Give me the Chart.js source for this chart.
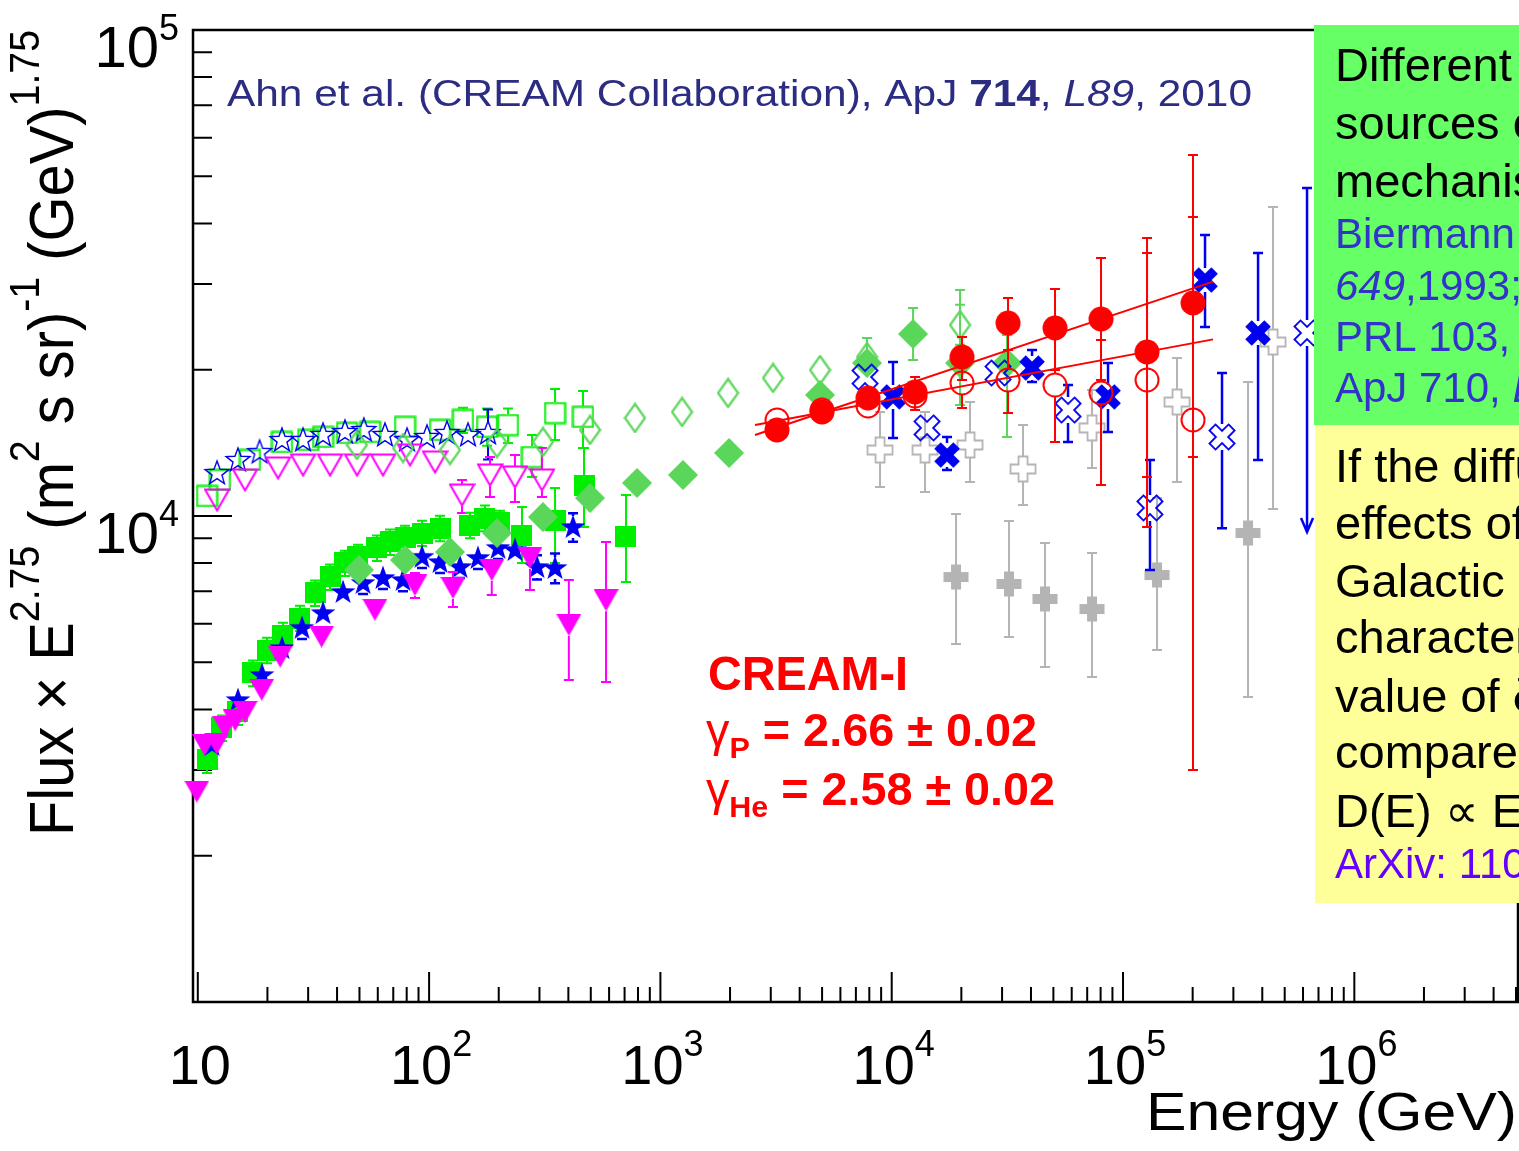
<!DOCTYPE html>
<html><head><meta charset="utf-8">
<script src="https://cdn.jsdelivr.net/npm/chart.js@4.4.1/dist/chart.umd.min.js"></script>
<style>html,body{margin:0;padding:0;background:#fff;overflow:hidden}</style>
</head><body><canvas id="c" width="1519" height="1151"></canvas>
<script>
// ---------- axis ranges & ticks ----------
const X_MIN = 9.534, X_MAX = 5.1e6, Y_MIN = 1000, Y_MAX = 100000;
const xMajorTicks = [10, 100, 1e3, 1e4, 1e5, 1e6];
const xMajorExp = ['', '2', '3', '4', '5', '6'];
const yMajorTicks = [1e4, 1e5];
const yMajorExp = ['4', '5'];
const minorMult = [2, 3, 4, 5, 6, 7, 8, 9];

// ---------- Helium (filled markers) ----------
const heGreenSqE = [10.96,12.72,14.92,17.32,19.92,23.35,27.66,32.12,37.29,43.29,49.27,59.53,67.76,78.68,93.2,111.5,150.2,174.4,202.5,252.1,350.3,467.4,709.9];
const heGreenSqF = [3148,3664,3954,4754,5300,5690,6166,6946,7494,8004,8240,8596,8845,9011,9226,9444,9579,9904,9674,9135,9772,11530,9090];
const heGreenSqLo = [190,220,240,290,320,340,370,420,450,480,490,520,530,540,550,570,580,600,580,1131,1768,2037,1775];
const heGreenSqHi = [190,220,240,290,320,340,370,420,450,480,490,520,530,540,550,570,580,600,580,1300,1648,2270,1955];

const heBlueStarE = [11.52,14.92,18.95,23.12,28.22,34.78,42.45,51.82,63.19,77.13,93.2,111.5,136.0,162.7,198.6,235.1,292.7,350.3,419.0];
const heBlueStarF = [3381,4182,4707,5348,5886,6314,6977,7282,7455,7383,8240,8040,7852,8200,8596,8511,7852,7818,9490];
const heBlueStarErr = [170,210,240,270,300,320,350,370,380,380,420,410,400,420,440,430,450,550,640];

const heMagE = [9.9,10.7,12.07,13.1,14.5,16.0,18.9,22.7,34.3,58.3,86.9,126.8,186.6,273,402,582];
const heMagF = [2710,3380,3400,3680,3800,3950,4390,5135,5645,6410,7210,7110,7740,8200,5970,6710];
const heMagLo = [100,120,120,130,130,140,160,190,210,240,428,611,861,1157,1372,2156];
const heMagHi = [100,120,120,130,130,140,160,190,210,240,426,563,300,396,1415,2133];

const heDiaE = [49.77,78.68,123.1,196.6,310.7,496.2,792.2,1252,1980,4898,7820,12364,19744,31520];
const heDiaF = [7745,8120,8433,9226,9952,10890,11693,12145,13480,17745,20644,23690,20644,20644];
const heDiaLo = [0,0,0,0,0,0,0,0,0,0,1324,2750,3724,6100];
const heDiaHi = [0,0,0,0,0,0,0,0,0,0,2596,3100,8526,2930];

const heCreamE = [3192,4995,7900,12614,20137,31830,50816,80330,127000,200700];
const heCreamF = [15030,16370,17490,17990,21240,24950,24370,25430,21750,27440];
const heCreamLo = [500,600,700,1470,2190,2990,4400,6380,9720,14215];
const heCreamHi = [500,600,700,1330,2110,3140,4950,8530,13020,13800];

const heXE = [10130,17340,40430,86130,226200,383500];
const heXF = [17580,13350,20160,17580,30590,23800];
const heXLo = [3110,920,1290,2690,6100,10760];
const heXHi = [3170,1190,1800,3060,7280,10970];

const heGrayE = [18970,32150,45990,73450,140300,347100];
const heGrayF = [7490,7246,6749,6436,7561,9226];
const heGrayLo = [2038,1610,1859,1772,2261,4984];
const heGrayHi = [2605,2519,2051,1954,3329,9644];

// ---------- Protons (open markers) ----------
const pGreenSqE = [10.96,12.47,16.81,23.12,30.01,34.78,44.17,55.53,78.68,111.5,140.1,178.0,219.3,278.5,350.3,462.7];
const pGreenSqF = [10995,11862,13040,14200,14335,14540,14820,14890,15250,15030,15760,15250,15390,13225,16290,15990];
const pGreenSqLo = [440,470,520,570,570,580,590,600,610,600,950,1300,1250,1195,1955,2190];
const pGreenSqHi = [440,470,520,570,570,580,590,600,610,600,950,1400,1250,1455,1960,2090];

const pBlueStarE = [12.11,14.92,18.50,23.12,28.50,34.78,43.29,52.24,64.45,80.27,97.9,119.5,147.3,179.8];
const pBlueStarF = [12260,13040,13540,14335,14335,14680,14890,15030,14680,14335,14540,14820,14680,14820];
const pBlueStarErr = [490,520,540,570,570,590,600,600,590,570,580,600,600,1750];

const pMagE = [12.11,16.0,22.23,28.50,37.29,48.79,63.19,82.7,106.1,138.8,183.4,235.1,307.6];
const pMagF = [10790,11862,12555,12730,12730,12730,12730,13350,12915,11045,12145,12030,11862];
const pMagLo = [220,240,250,250,250,250,250,270,260,900,1205,1340,920];
const pMagHi = [220,240,250,250,250,250,250,270,260,820,1080,1320,1940];

const pDiaE = [48.75,77.13,123.1,196.6,310.7,496.2,776.5,1240,1960,3068,4898,7820,19744];
const pDiaF = [14000,13800,13670,14130,14200,15030,15910,16370,17910,19230,19970,21240,24720];
const pDiaLo = [0,0,0,0,0,0,0,0,0,0,1200,1400,2200];
const pDiaHi = [0,0,0,0,0,0,0,0,0,0,1300,2000,2500];

const pCreamE = [3192,4995,7900,12614,20137,31830,50816,80330,127000,200700];
const pCreamF = [15760,16520,16840,17660,18780,19050,18600,17910,19050,15760];
const pCreamLo = [600,700,800,900,2100,2760,4400,6330,9557,12760];
const pCreamHi = [600,700,800,900,2160,2910,5530,5110,18280,39540];

const pXE = [7665,14210,28810,57840,130800,267900,624500];
const pXF = [19320,15180,19690,16520,10390,14540,23800];
const pXLo = [1000,800,800,2320,2645,5100,14530];
const pXHi = [1000,800,800,2080,2650,5150,23500];
const pXArrow = [0,0,0,0,0,0,1];

const pGrayE = [8902,13930,21800,36960,73450,171200,445200];
const pGrayF = [13670,13670,14000,12495,15180,17160,22800];
const pGrayLo = [2200,2470,2250,1960,2625,5410,12460];
const pGrayHi = [2700,2700,3160,2895,2990,3980,20440];

// ---------- CREAM-I power-law fits ----------
const fitE = [2564, 245000];
const fitHeF = [14680, 30350];
const fitPF = [15390, 23090];

// ---------- colours ----------
const C_G = '#00ee00', C_GD = '#5ad65a', C_B = '#0000f0', C_M = '#ff00ff', C_R = '#ff0000', C_GR = '#b4b4b4';
const FF = '"Liberation Sans", Arial, Helvetica, sans-serif';

// ---------- marker images ----------
function mk(w, h, fn) { const c = document.createElement('canvas'); c.width = w; c.height = h; const g = c.getContext('2d'); fn(g, w, h); return c; }
function starPath(g, cx, cy, R, r) { g.beginPath(); for (let i = 0; i < 10; i++) { const a = -Math.PI / 2 + i * Math.PI / 5; const rr = i % 2 ? r : R; g.lineTo(cx + rr * Math.cos(a), cy + rr * Math.sin(a)); } g.closePath(); }
function plusPath(g, cx, cy, s, t, rot) {
  const pts = [[-t,-s],[t,-s],[t,-t],[s,-t],[s,t],[t,t],[t,s],[-t,s],[-t,t],[-s,t],[-s,-t],[-t,-t]];
  const c = Math.cos(rot), sn = Math.sin(rot);
  g.beginPath(); pts.forEach(([x, y]) => g.lineTo(cx + x * c - y * sn, cy + x * sn + y * c)); g.closePath();
}
const M = {
  sqF: col => mk(21, 21, g => { g.fillStyle = col; g.fillRect(0, 0, 21, 21); }),
  sqO: col => mk(23, 23, g => { g.strokeStyle = col; g.lineWidth = 2; g.strokeRect(1.5, 1.5, 20, 20); }),
  starF: col => mk(28, 28, g => { g.fillStyle = col; starPath(g, 14, 14.5, 13, 5.2); g.fill(); }),
  starO: col => mk(28, 28, g => { g.strokeStyle = col; g.lineWidth = 1.4; starPath(g, 14, 14.5, 12.5, 5.2); g.stroke(); }),
  triF: col => mk(25, 22, g => { g.fillStyle = col; g.beginPath(); g.moveTo(0, 0); g.lineTo(25, 0); g.lineTo(12.5, 22); g.closePath(); g.fill(); }),
  triO: col => mk(27, 24, g => { g.strokeStyle = col; g.lineWidth = 2; g.beginPath(); g.moveTo(1.5, 1.5); g.lineTo(25.5, 1.5); g.lineTo(13.5, 22.5); g.closePath(); g.stroke(); }),
  diaF: col => mk(30, 30, g => { g.fillStyle = col; g.beginPath(); g.moveTo(15, 0); g.lineTo(30, 15); g.lineTo(15, 30); g.lineTo(0, 15); g.closePath(); g.fill(); }),
  diaO: col => mk(23, 31, g => { g.strokeStyle = col; g.lineWidth = 2.2; g.beginPath(); g.moveTo(11.5, 1.5); g.lineTo(21.5, 15.5); g.lineTo(11.5, 29.5); g.lineTo(1.5, 15.5); g.closePath(); g.stroke(); }),
  cirF: col => mk(26, 26, g => { g.fillStyle = col; g.beginPath(); g.arc(13, 13, 12.5, 0, 7); g.fill(); }),
  cirO: col => mk(26, 26, g => { g.strokeStyle = col; g.lineWidth = 2; g.beginPath(); g.arc(13, 13, 11.5, 0, 7); g.stroke(); }),
  plusF: col => mk(26, 26, g => { g.fillStyle = col; plusPath(g, 13, 13, 12.5, 5, 0); g.fill(); }),
  plusO: col => mk(28, 28, g => { g.strokeStyle = col; g.lineWidth = 1.8; plusPath(g, 14, 14, 12.5, 4.5, 0); g.stroke(); }),
  xF: col => mk(28, 28, g => { g.fillStyle = col; plusPath(g, 14, 14, 13.5, 4.6, Math.PI / 4); g.fill(); }),
  xO: col => mk(30, 30, g => { g.strokeStyle = col; g.lineWidth = 1.8; plusPath(g, 15, 15, 13.5, 4.3, Math.PI / 4); g.stroke(); })
};

function pts(E, F) { return E.map((e, i) => ({ x: e, y: F[i] })); }
function ds(label, E, F, lo, hi, marker, col, gap, extra) {
  return Object.assign({ label, data: pts(E, F), pointStyle: marker, pointRadius: 12, pointHoverRadius: 12,
    showLine: false, clip: false, errLo: lo, errHi: hi, errColor: col, errGap: gap, errWidth: 2 }, extra || {});
}

// datasets listed top-most first
const datasets = [
  ds('CREAM-I He', heCreamE, heCreamF, heCreamLo, heCreamHi, M.cirF(C_R), C_R, 12),
  ds('CREAM-I p', pCreamE, pCreamF, pCreamLo, pCreamHi, M.cirO(C_R), C_R, 12),
  { label: 'fit He', type: 'line', data: pts(fitE, fitHeF), showLine: true, pointRadius: 0, borderColor: C_R, borderWidth: 2, clip: false },
  { label: 'fit p', type: 'line', data: pts(fitE, fitPF), showLine: true, pointRadius: 0, borderColor: C_R, borderWidth: 2, clip: false },
  ds('He X', heXE, heXF, heXLo, heXHi, M.xF(C_B), C_B, 12, { errWidth: 2.5 }),
  ds('p X', pXE, pXF, pXLo, pXHi, M.xO(C_B), C_B, 13, { errWidth: 2.5, errArrow: pXArrow }),
  ds('He gray', heGrayE, heGrayF, heGrayLo, heGrayHi, M.plusF(C_GR), C_GR, 12),
  ds('p gray', pGrayE, pGrayF, pGrayLo, pGrayHi, M.plusO(C_GR), C_GR, 13),
  ds('He diamonds', heDiaE, heDiaF, heDiaLo, heDiaHi, M.diaF(C_GD), C_GD, 14),
  ds('p diamonds', pDiaE, pDiaF, pDiaLo, pDiaHi, M.diaO(C_GD), C_GD, 14),
  ds('He triangles', heMagE, heMagF, heMagLo, heMagHi, M.triF(C_M), C_M, 11),
  ds('He stars', heBlueStarE, heBlueStarF, heBlueStarErr, heBlueStarErr, M.starF(C_B), C_B, 11, { errWidth: 2.5 }),
  ds('He squares', heGreenSqE, heGreenSqF, heGreenSqLo, heGreenSqHi, M.sqF(C_G), C_G, 10),
  ds('p triangles', pMagE, pMagF, pMagLo, pMagHi, M.triO(C_M), C_M, 11),
  ds('p stars', pBlueStarE, pBlueStarF, pBlueStarErr, pBlueStarErr, M.starO(C_B), C_B, 11, { errWidth: 2 }),
  ds('p squares', pGreenSqE, pGreenSqF, pGreenSqLo, pGreenSqHi, M.sqO(C_G), C_G, 11)
];

// ---------- plugins ----------
const errPlugin = {
  id: 'errbars',
  beforeDatasetDraw(chart, args) {
    const d = chart.data.datasets[args.index]; if (!d.errLo) return;
    const ys = chart.scales.y, g = chart.ctx, cap = 5;
    g.save(); g.strokeStyle = d.errColor; g.lineWidth = d.errWidth; g.lineCap = 'butt';
    args.meta.data.forEach((pt, i) => {
      const v = d.data[i].y, lo = d.errLo[i], hi = d.errHi[i];
      const x = pt.x, y = pt.y;
      const yt = ys.getPixelForValue(v + hi), yb = ys.getPixelForValue(Math.max(v - lo, 1));
      g.beginPath();
      if (y - yt > d.errGap) { g.moveTo(x, y - d.errGap); g.lineTo(x, yt); g.moveTo(x - cap, yt); g.lineTo(x + cap, yt); }
      if (yb - y > d.errGap) {
        g.moveTo(x, y + d.errGap); g.lineTo(x, yb);
        if (d.errArrow && d.errArrow[i]) { g.moveTo(x - 6, yb - 14); g.lineTo(x, yb); g.lineTo(x + 6, yb - 14); }
        else { g.moveTo(x - cap, yb); g.lineTo(x + cap, yb); }
      }
      g.stroke();
    });
    g.restore();
  }
};

function runs(g, parts, x, y, align, sx, target) {
  let w = 0; parts.forEach(p => { g.font = p.f; p.w = g.measureText(p.t).width; w += p.w; });
  if (target) sx = target / w;
  sx = sx || 1;
  const tw = w * sx;
  const x0 = align === 'center' ? x - tw / 2 : align === 'right' ? x - tw : x;
  g.save(); g.translate(x0, y); g.scale(sx, 1); g.textAlign = 'left'; g.textBaseline = 'alphabetic';
  let cx = 0; parts.forEach(p => { g.font = p.f; g.fillStyle = p.c || '#000'; g.fillText(p.t, cx, p.dy || 0); cx += p.w; });
  g.restore();
}

const axesPlugin = {
  id: 'rootAxes',
  beforeDatasetsDraw(chart) {
    const g = chart.ctx, a = chart.chartArea, xs = chart.scales.x, ys = chart.scales.y;
    g.save(); g.strokeStyle = '#000';
    g.lineWidth = 2;
    g.beginPath();
    xMajorTicks.forEach(v => { const px = xs.getPixelForValue(v); g.moveTo(px, a.bottom); g.lineTo(px, a.bottom - 30);
      minorMult.forEach(m => { const mv = v * m; if (mv < X_MAX) { const q = xs.getPixelForValue(mv); g.moveTo(q, a.bottom); g.lineTo(q, a.bottom - 15); } }); });
    yMajorTicks.concat([1e3]).forEach(v => { const py = ys.getPixelForValue(v); if (v > Y_MIN && v < Y_MAX) { g.moveTo(a.left, py); g.lineTo(a.left + 39, py); }
      minorMult.forEach(m => { const mv = v * m; if (mv < Y_MAX) { const q = ys.getPixelForValue(mv); g.moveTo(a.left, q); g.lineTo(a.left + 19, q); } }); });
    g.stroke();
    g.lineWidth = 2.5;
    g.beginPath(); g.rect(a.left, a.top, a.right - a.left, a.bottom - a.top); g.stroke();
    g.restore();
  },
  afterDraw(chart) {
    const g = chart.ctx, xs = chart.scales.x, ys = chart.scales.y;
    // x tick labels
    xMajorTicks.forEach((v, i) => {
      const px = xs.getPixelForValue(v);
      const parts = [{ t: '10', f: '56px ' + FF }];
      if (xMajorExp[i]) parts.push({ t: xMajorExp[i], f: '36px ' + FF, dy: -28 });
      runs(g, parts, px + 2, 1084, 'center');
    });
    // y tick labels
    yMajorTicks.forEach((v, i) => {
      const py = ys.getPixelForValue(v);
      runs(g, [{ t: '10', f: '58px ' + FF }, { t: yMajorExp[i], f: '36px ' + FF, dy: -27 }], 179, py + 37, 'right');
    });
    // x title
    runs(g, [{ t: 'Energy (GeV)', f: '53px ' + FF }], 1517, 1130, 'right', 1, 371);
    // y title (rotated)
    g.save(); g.translate(73, 836); g.rotate(-Math.PI / 2); g.scale(1, 1.12);
    const big = '56px ' + FF, sup = '38px ' + FF, up = -30;
    runs(g, [{ t: 'Flux \u00d7 E', f: big }, { t: '2.75', f: sup, dy: up }, { t: ' (m', f: big }, { t: '2', f: sup, dy: up },
      { t: ' s sr)', f: big }, { t: '-1', f: sup, dy: up }, { t: ' (GeV)', f: big }, { t: '1.75', f: sup, dy: up }], 0, 0, 'left', 1, 806);
    g.restore();
    // citation
    const nv = '#2c2c82';
    runs(g, [{ t: 'Ahn et al. (CREAM Collaboration), ApJ ', f: '37px ' + FF, c: nv }, { t: '714', f: 'bold 37px ' + FF, c: nv },
      { t: ', ', f: '37px ' + FF, c: nv }, { t: 'L89', f: 'italic 37px ' + FF, c: nv }, { t: ', 2010', f: '37px ' + FF, c: nv }], 227, 106, 'left', 1, 1025);
    // CREAM-I annotation
    runs(g, [{ t: 'CREAM-I', f: 'bold 48px ' + FF, c: C_R }], 708, 690, 'left', 1, 200);
    runs(g, [{ t: '\u03b3', f: '46px ' + FF, c: C_R }, { t: 'P', f: 'bold 30px ' + FF, c: C_R, dy: 12 }, { t: ' = 2.66 \u00b1 0.02', f: 'bold 46px ' + FF, c: C_R }], 706, 746, 'left', 1, 331);
    runs(g, [{ t: '\u03b3', f: '46px ' + FF, c: C_R }, { t: 'He', f: 'bold 30px ' + FF, c: C_R, dy: 12 }, { t: ' = 2.58 \u00b1 0.02', f: 'bold 46px ' + FF, c: C_R }], 706, 805, 'left', 1, 349);
    // side boxes
    g.save();
    g.fillStyle = '#66ff66'; g.fillRect(1314, 25, 210, 400);
    g.fillStyle = '#ffff99'; g.fillRect(1315, 425, 210, 478);
    g.restore();
    const bf = '47px ' + FF, sf = '42px ' + FF, sfi = 'italic 42px ' + FF, blu = '#3333cc', pur = '#6600ff';
    const green = [
      [{ t: 'Different ', f: bf }], [{ t: 'sources of', f: bf }], [{ t: 'mechanisms', f: bf }],
      [{ t: 'Biermann et al.', f: sf, c: blu }], [{ t: '649', f: sfi, c: blu }, { t: ',1993; ApJ', f: sf, c: blu }],
      [{ t: 'PRL 103, 061101', f: sf, c: blu }], [{ t: 'ApJ 710, ', f: sf, c: blu }, { t: 'L53', f: sfi, c: blu }]
    ];
    const gy = [81, 139, 197, 248, 300, 351, 402];
    green.forEach((p, i) => runs(g, p, 1335, gy[i], 'left'));
    const yellow = [
      [{ t: 'If the diffusion', f: bf }], [{ t: 'effects of the', f: bf }], [{ t: 'Galactic magnetic', f: bf }],
      [{ t: 'characteristic', f: bf }], [{ t: 'value of \u03b4', f: bf }], [{ t: 'compared', f: bf }],
      [{ t: 'D(E) \u221d E', f: bf }], [{ t: 'ArXiv: 1101', f: sf, c: pur }]
    ];
    const yy = [482, 539, 597, 653, 712, 768, 827, 878];
    yellow.forEach((p, i) => runs(g, p, 1335, yy[i], 'left'));
  }
};

new Chart(document.getElementById('c').getContext('2d'), {
  type: 'scatter',
  data: { datasets },
  options: {
    responsive: false, animation: false, devicePixelRatio: 1,
    layout: { autoPadding: false, padding: { left: 193, top: 30, right: 1, bottom: 149 } },
    scales: {
      x: { type: 'logarithmic', min: X_MIN, max: X_MAX, display: false },
      y: { type: 'logarithmic', min: Y_MIN, max: Y_MAX, display: false }
    },
    plugins: { legend: { display: false }, tooltip: { enabled: false } },
    events: []
  },
  plugins: [errPlugin, axesPlugin]
});
</script></body></html>
